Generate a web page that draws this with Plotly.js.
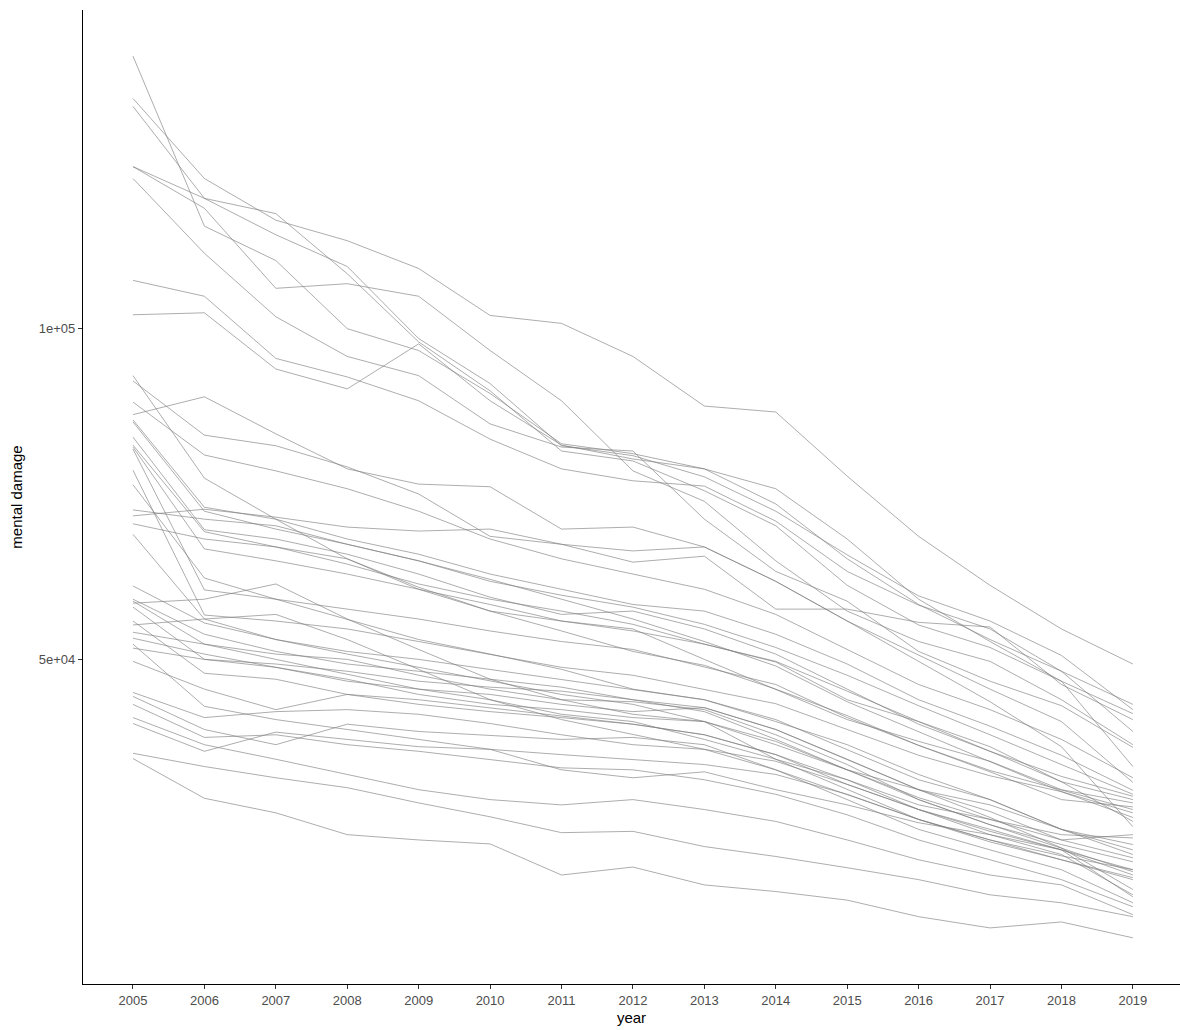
<!DOCTYPE html>
<html>
<head>
<meta charset="utf-8">
<script src="https://cdn.plot.ly/plotly-3.0.1.min.js"></script>
<style>html,body{margin:0;padding:0;background:#fff;}#chart{width:1180px;height:1030px;}</style>
</head>
<body>
<div id="chart"></div>
<script>
const years = [2005,2006,2007,2008,2009,2010,2011,2012,2013,2014,2015,2016,2017,2018,2019];
const yTickVals = [50000, 100000];
const yTickText = ["5e+04", "1e+05"];

// each series: mental damage per year (2005..2019)
const s01 = [134800,122700,116400,113300,109100,102000,100800,95800,88300,87400,77700,68600,61200,54600,49300];
const s02 = [141200,115500,110300,100000,96700,90200,82600,81100,78800,73500,65200,58300,53000,48200,43200];
const s03 = [133600,119700,114200,109400,98500,91700,82300,80800,77600,72400,65800,59600,55800,50600,42400];
const s04 = [124500,119700,117400,108300,98000,90600,81500,80000,75500,70200,61200,55200,51800,46700,41800];
const s05 = [124500,118200,106100,106800,104900,96700,89100,78500,73900,64900,57300,52700,49700,43900,37100];
const s06 = [122700,111400,101800,95800,92900,85600,82100,81500,71200,63300,58800,51200,46700,43000,36700];
const s07 = [107300,104900,95500,92700,89100,83300,78800,77000,76200,70900,63300,58200,54600,48200,39100];
const s08 = [102100,102400,93900,90900,97700,89100,82400,80300,78800,75800,68200,59100,52700,46700,33800];
const s09 = [92900,77400,71200,65200,60900,57300,54300,51200,49100,45500,41500,37000,33200,30300,27300];
const s10 = [92100,83900,82300,79100,75000,68600,67400,64700,65600,57600,57600,55600,54900,46200,40900];
const s11 = [88900,80900,78500,75800,72400,68200,65200,62900,60600,56800,51500,46200,42400,37900,32100];
const s12 = [87000,89700,84100,78800,76500,76100,69700,70000,67000,61800,55800,50600,45500,40600,31400];
const s13 = [86200,73000,71200,68200,65900,62900,60600,58300,57300,53800,49300,43900,39900,35500,30200];
const s14 = [85900,72400,69700,67400,64900,61800,59700,57900,55300,51800,47600,43000,38600,34100,29600];
const s15 = [83600,69600,68200,65900,62900,59400,56800,57300,54600,50800,45500,40200,36100,32300,29300];
const s16 = [82400,69300,67000,64400,61400,59100,57300,55300,52300,49600,43900,40600,36100,31500,28800];
const s17 = [82100,66700,64900,62900,60600,58300,55800,54600,50000,45500,40900,37600,34600,30300,28300];
const s18 = [81800,60500,59100,57600,56100,54300,52700,51500,48800,46200,41200,37000,33000,28800,27700];
const s19 = [78600,56700,55800,54600,52700,50800,48800,47600,45500,43300,39400,35500,32400,30000,26800];
const s20 = [76400,62300,59100,56100,53000,50800,48500,45500,43900,40900,36400,31800,28800,24300,20500];
const s21 = [72600,71200,70200,67400,64900,62100,59100,56100,52700,49000,43600,39100,34600,30000,26100];
const s22 = [71700,72700,71500,70000,69400,69700,67400,66400,67000,61800,55800,49700,43600,36800,24700];
const s23 = [70500,68200,67000,65200,60600,57300,55800,54300,52300,49700,45200,40600,36800,31500,25500];
const s24 = [68900,56100,53000,50800,48800,46700,44700,43200,40600,34900,30300,25800,22700,20300,18200];
const s25 = [61100,55500,53000,51200,50000,48500,47000,45500,43900,40600,37100,32600,28800,24300,21200];
const s26 = [59100,53800,51200,49300,48200,47000,45800,43900,42700,39400,34900,30300,27000,22700,20000];
const s27 = [58800,52300,50800,50000,47600,45500,43900,43600,42400,38600,34100,28800,25000,22000,19400];
const s28 = [58500,59100,61400,56100,51500,47000,43900,41700,40600,37600,33300,30300,28000,24300,22000];
const s29 = [57900,50000,49300,48200,46700,45800,45200,43900,42100,37900,33300,28800,25000,21500,17900];
const s30 = [55800,47900,47000,44700,43200,42100,41200,40200,38600,35600,31100,27300,24300,21200,17400];
const s31 = [55200,56100,56800,53000,48500,43900,40900,38600,36400,33300,29600,25800,22700,19700,17000];
const s32 = [54100,52300,50000,47700,45500,43900,41700,40600,37900,34900,31800,28000,25800,22700,23500];
const s33 = [53200,50800,48800,47000,44700,43200,42400,41200,40600,37100,33300,29100,25800,23500,23000];
const s34 = [52300,42900,40900,39400,37900,36400,35600,34900,34100,32600,29600,25800,22400,19700,16700];
const s35 = [51700,50000,48800,46700,45500,44700,43200,42100,42700,39400,34900,30300,26100,21500,15200];
const s36 = [49700,45500,42400,44700,43900,42700,41500,40200,38600,35600,31800,27300,23500,20500,14400];
const s37 = [45000,41200,42100,42400,41700,40300,38600,37100,36400,34600,31100,27300,24000,21200,14100];
const s38 = [44400,39400,37100,40200,39100,38500,37900,38200,37100,33300,28800,24300,21200,18200,13200];
const s39 = [43200,38200,38600,37100,36100,34900,33600,33300,31800,29600,26500,22700,19700,16700,12600];
const s40 = [41200,37100,34900,32600,30300,28800,28000,28800,27300,25500,22700,19700,17400,15900,11400];
const s41 = [40300,36100,39000,37900,36800,36400,33300,32100,33000,30300,28000,25300,23500,21200,18200];
const s42 = [35800,33800,32100,30600,28300,26200,23800,24000,21700,20200,18500,16700,14400,13200,11100];
const s43 = [35000,29000,26800,23500,22700,22100,17400,18600,15900,14900,13600,11100,9400,10300,7900];

const seriesList = [s01,s02,s03,s04,s05,s06,s07,s08,s09,s10,s11,s12,s13,s14,s15,s16,s17,s18,s19,s20,
  s21,s22,s23,s24,s25,s26,s27,s28,s29,s30,s31,s32,s33,s34,s35,s36,s37,s38,s39,s40,s41,s42,s43];

const traces = seriesList.map(function(vals){
  return {
    x: years, y: vals, type: 'scatter', mode: 'lines',
    line: {color: 'rgba(125,125,125,0.7)', width: 0.9},
    hoverinfo: 'skip', showlegend: false
  };
});

const tickFont = {family: 'Liberation Sans, Arial, sans-serif', size: 13, color: '#4d4d4d'};
const titleFont = {family: 'Liberation Sans, Arial, sans-serif', size: 15, color: '#000'};

const layout = {
  width: 1180, height: 1030,
  margin: {l: 83, r: 0, t: 10, b: 46},
  paper_bgcolor: '#fff', plot_bgcolor: '#fff',
  showlegend: false,
  xaxis: {
    range: [2004.3, 2019.66], tickmode: 'array', tickvals: years, ticktext: years.map(String),
    showgrid: false, zeroline: false, showline: true, linecolor: '#000', linewidth: 1.2,
    ticks: 'outside', ticklen: 4, tickcolor: '#333', tickwidth: 1,
    tickfont: tickFont, automargin: false,
    title: {text: 'year', font: titleFont, standoff: 5}
  },
  yaxis: {
    range: [920, 148180], tickmode: 'array', tickvals: yTickVals, ticktext: yTickText,
    showgrid: false, zeroline: false, showline: true, linecolor: '#000', linewidth: 1.2,
    ticks: 'outside', ticklen: 4, tickcolor: '#333', tickwidth: 1,
    tickfont: tickFont, automargin: false,
    title: {text: 'mental damage', font: titleFont, standoff: 12}
  }
};

Plotly.newPlot('chart', traces, layout, {displayModeBar: false, staticPlot: true});
</script>
</body>
</html>
